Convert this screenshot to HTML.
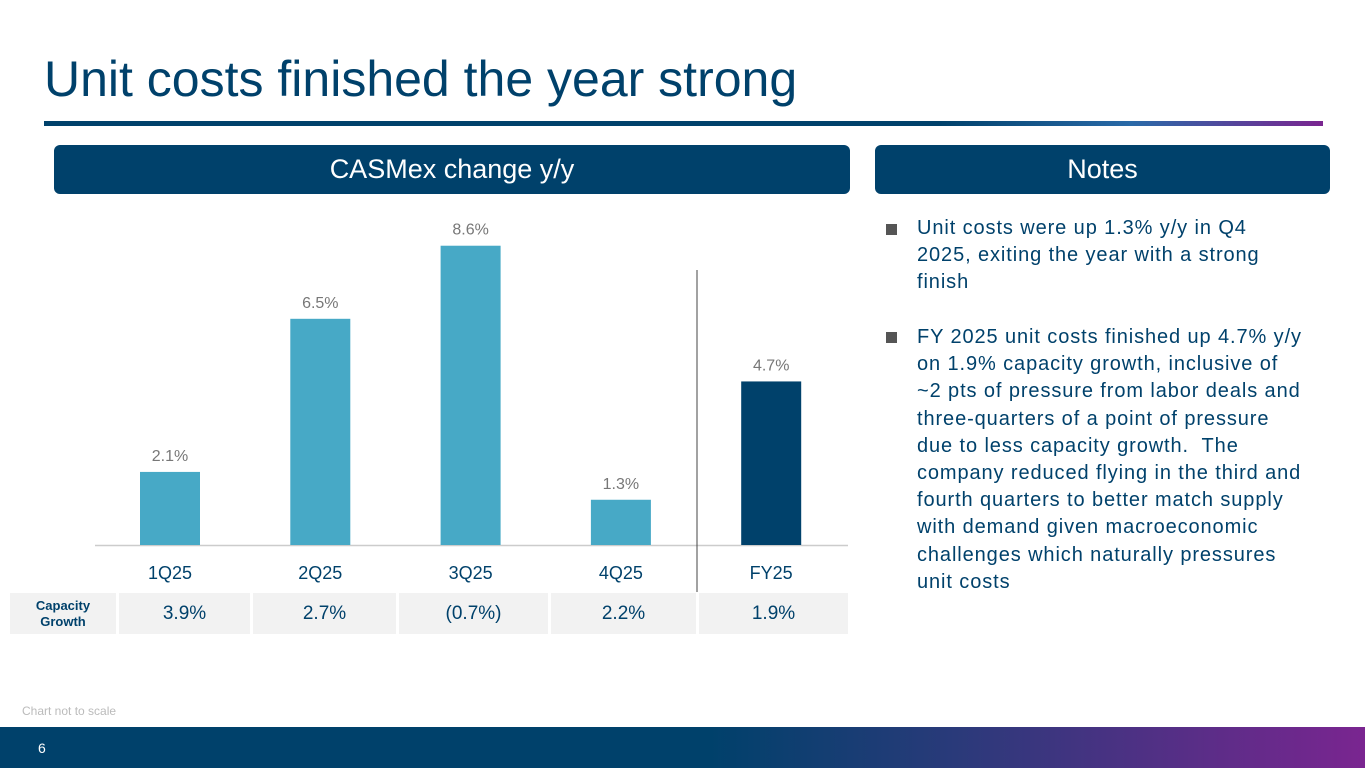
<!DOCTYPE html>
<html><head><meta charset="utf-8"><style>
body{margin:0;width:1365px;height:768px;position:relative;background:#fff;font-family:"Liberation Sans",sans-serif;overflow:hidden}
.abs{position:absolute}
.hdr{background:#00416b;color:#fff;border-radius:6px;font-size:27px;text-align:center;line-height:49px;height:49px;top:145px}
.cell{position:absolute;top:593px;height:41px;background:#f2f2f2;color:#00416b;font-size:19px;text-align:center;line-height:41px}
.note{position:absolute;left:917px;width:440px;font-size:20px;line-height:27.2px;letter-spacing:0.9px;color:#00416b;white-space:nowrap}
.bul{position:absolute;left:886px;width:11px;height:11px;background:#555}
</style></head><body>
<div class="abs" style="left:44px;top:50px;font-size:50px;color:#00416b">Unit costs finished the year strong</div>
<div class="abs" style="left:44px;top:121px;width:1279px;height:5px;background:linear-gradient(90deg,#00416b 0%,#00416b 70%,#2a6aa8 85%,#7a2590 100%)"></div>
<div class="abs hdr" style="left:54px;width:796px">CASMex change y/y</div>
<div class="abs hdr" style="left:875px;width:455px">Notes</div>
<svg class="abs" id="chart" style="left:0;top:0" width="860" height="600"></svg>
<div class="cell" style="left:10px;width:106px;font-size:13px;font-weight:bold;line-height:16px;padding-top:5px;height:36px">Capacity<br>Growth</div>
<div class="cell" style="left:119px;width:131px">3.9%</div>
<div class="cell" style="left:253px;width:143px">2.7%</div>
<div class="cell" style="left:399px;width:149px">(0.7%)</div>
<div class="cell" style="left:551px;width:145px">2.2%</div>
<div class="cell" style="left:699px;width:149px">1.9%</div>
<div class="bul" style="top:224px"></div>
<div class="note" style="top:215px">Unit costs were up 1.3% y/y in Q4<br>2025, exiting the year with a strong<br>finish</div>
<div class="bul" style="top:332px"></div>
<div class="note" style="top:324px">FY 2025 unit costs finished up 4.7% y/y<br>on 1.9% capacity growth, inclusive of<br>~2 pts of pressure from labor deals and<br>three-quarters of a point of pressure<br>due to less capacity growth.&nbsp; The<br>company reduced flying in the third and<br>fourth quarters to better match supply<br>with demand given macroeconomic<br>challenges which naturally pressures<br>unit costs</div>
<div class="abs" style="left:22px;top:704px;font-size:12px;color:#bbb">Chart not to scale</div>
<div class="abs" style="left:0;top:727px;width:1365px;height:41px;background:linear-gradient(90deg,#00416b 0%,#00416b 52%,#2a3a7a 70%,#7a2590 100%)"></div>
<div class="abs" style="left:38px;top:740px;font-size:14px;color:#fff">6</div>
<script>
const categories=["1Q25","2Q25","3Q25","4Q25","FY25"];
const values=[2.1,6.5,8.6,1.3,4.7];
const labels=["2.1%","6.5%","8.6%","1.3%","4.7%"];
const svg=document.getElementById('chart');
const NS='http://www.w3.org/2000/svg';
const base=545,scale=34.8;
const x=i=>170+i*150.3;
const y=v=>base-v*scale;
function mk(t,a){const e=document.createElementNS(NS,t);for(const k in a)e.setAttribute(k,a[k]);svg.appendChild(e);return e;}
const ax=mk('line',{x1:95,x2:848,y1:base+0.5,y2:base+0.5,stroke:'#ccc','stroke-width':1.5});


const dv=mk('line',{x1:697,x2:697,y1:270,y2:592,stroke:'#444','stroke-width':1});


categories.forEach((c,i)=>{
 const b=mk('rect',{x:x(i)-30,y:y(values[i]),width:60,height:base-y(values[i]),fill:i==4?'#00416b':'#47a9c6'});
 
 
 const l=mk('text',{x:x(i),y:y(values[i])-11,'text-anchor':'middle','font-size':16,fill:'#777'});
 l.textContent=labels[i];
 
 
 const t=mk('text',{x:x(i),y:579,'text-anchor':'middle','font-size':18,fill:'#00416b'});
 t.textContent=c;
 
 
});
</script>
</body></html>
